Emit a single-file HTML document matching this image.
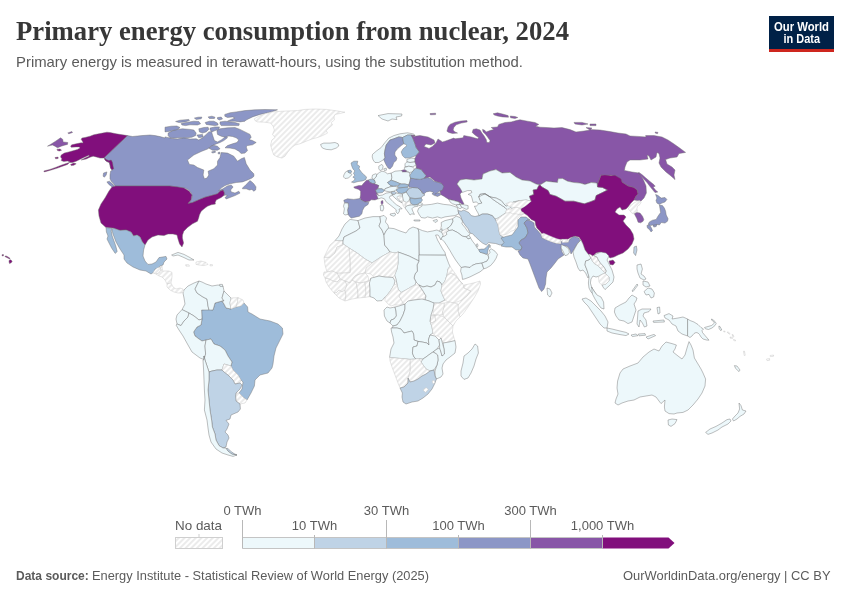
<!DOCTYPE html>
<html lang="en">
<head>
<meta charset="utf-8">
<title>Primary energy consumption from nuclear, 2024</title>
<style>
html,body{margin:0;padding:0;background:#fff;}
body{width:850px;height:600px;overflow:hidden;position:relative;font-family:"Liberation Sans",sans-serif;}
svg{position:absolute;left:0;top:0;display:block;}
.serif{font-family:"Liberation Serif",serif;}
.sans{font-family:"Liberation Sans",sans-serif;}
</style>
</head>
<body>
<svg width="850" height="600" viewBox="0 0 850 600">
<defs>
<pattern id="hatch" patternUnits="userSpaceOnUse" width="4" height="4" patternTransform="rotate(-45 2 2)">
<rect width="4" height="4" fill="#fff"/>
<path d="M-1 2H5" stroke="#e4e4e4" stroke-width="1.45"/>
</pattern>
</defs>
<rect width="850" height="600" fill="#fff"/>
<!-- header -->
<text class="serif" x="16" y="39.6" font-size="27.2" font-weight="bold" fill="#373737" textLength="553" lengthAdjust="spacingAndGlyphs">Primary energy consumption from nuclear, 2024</text>
<text class="sans" x="16" y="67" font-size="14.2" fill="#5b5b5b" textLength="507" lengthAdjust="spacingAndGlyphs">Primary energy is measured in terawatt-hours, using the substitution method.</text>
<!-- logo -->
<g>
<rect x="769" y="16" width="65" height="36" fill="#002147"/>
<rect x="769" y="49" width="65" height="3" fill="#ce261e"/>
<text class="sans" x="801.5" y="30.8" font-size="12" font-weight="bold" fill="#fff" text-anchor="middle" textLength="55" lengthAdjust="spacingAndGlyphs">Our World</text>
<text class="sans" x="801.8" y="42.9" font-size="12" font-weight="bold" fill="#fff" text-anchor="middle" textLength="36.5" lengthAdjust="spacingAndGlyphs">in Data</text>
</g>
<!-- map -->
<g id="map">
<g stroke="#707070" stroke-width="0.45" stroke-linejoin="round">
<path fill="#8c96c6" d="M127.5 135.6L132.5 136.5L137.5 136L142 135.6L150 135L155 135.6L160 136.6L165 138L165 136.9L172.5 138.5L177.5 139L183.8 137.8L190 139L196.2 138.8L198.8 140L202.5 137.8L206.2 134.4L208.8 131.9L211.5 131.5L212.5 135L214.4 140.6L217.5 141.9L221.2 140L226.2 136.2L227.5 137.8L223.8 140.6L220 142.5L215 144.4L211.2 146.2L207.5 149L201.2 151.5L193.8 155L187.5 160L189.4 164.4L193.8 165L197.5 167.5L203.8 170L203.1 175L204.4 178.8L206.9 178.1L208.8 175L208.1 171.2L213.8 168.8L217.5 165L217.5 161.2L220 157.5L221.2 152.5L227.5 153.1L233.8 156.2L237.5 161.2L241.2 158.8L244.4 157.5L246.2 163.8L250 170L253.8 173.8L254 176.2L251.9 178.1L247.5 180L242.5 181.9L236.2 182.5L230 183.8L225 185.6L221.2 188.1L218.8 190.6L222.5 189L227.5 185.9L231.2 185L233.1 186.9L230.6 190L231.2 191.9L235 193.1L238.8 191.2L240 193.1L235 195.6L230 197.5L226.2 199L225 197.5L227.5 195.6L225 195L223.8 195.6L224.4 193.1L223.1 190L220 191.2L217.5 193.8L211.2 195.6L205 197.2L198.8 199.8L192.5 202.5L188.1 203.8L191.2 200L192.2 196.2L191.2 193.1L188.8 190L185 188.1L180 187.5L170 186L115.6 186L115 186L114.4 185L113.1 183.1L111.2 181.2L110 178.8L110 175L110.6 171.2L112.5 170L111.9 169.8L110.6 168.1L110 165L109.4 162.5L106.9 161.5L105 160L104.4 157.5Z"/>
<path fill="#8c96c6" d="M103.5 173.1L106.9 171.9L106.2 175L104.4 177.2L103.1 176.2Z"/>
<path fill="#8c96c6" d="M106.9 181.9L109.4 181.2L112.5 183.8L114.4 186.2L113.8 188.8L111.2 186.2L108.8 184.4Z"/>
<path fill="#8c96c6" d="M242.5 188.1L246.2 184.4L250 180.6L251.9 181.9L253.8 183.8L256 186.9L255.6 190L253.8 191.2L251.9 189.4L249.4 190L246.2 188.8L242.5 188.8Z"/>
<path fill="#8c96c6" d="M216.9 130.6L220 128.8L227.5 127.8L235 127.5L240 129.4L245 131.9L250 134.4L251.2 137.5L249 139.4L252.5 140.6L256.2 142.5L252.5 144.8L247.5 145.6L246.2 146.9L247.5 150.6L245 153.1L241.2 153.5L238.8 151.2L235 149L230 148.1L225 147.8L227.5 145.6L232.5 143.8L236.9 142.5L238.8 140L236.2 137.8L232.5 136.5L228.8 136L225 137.2L221.2 136.2L217.5 134.4Z"/>
<path fill="#8c96c6" d="M224.8 114.4L230 112.8L236.2 111.9L245 110.6L255 109.8L265 109.5L277.5 109.8L272.5 111.5L267.5 112.8L260 114.4L252.5 116.9L246.2 120L245 121.2L240 121.9L235 121.2L227.5 121.2L231.2 119.4L235 118.1L232.5 116.9L227.5 117.5L224.8 116.2Z"/>
<path fill="#8c96c6" d="M220 121.9L225 121.2L235 122.5L239.4 123.8L238.8 125.6L230 125.6L221.2 125.6L220 123.8Z"/>
<path fill="#8c96c6" d="M168.1 133.1L172.5 130.6L177.5 129.4L182.5 128.8L190 129.4L193.8 130L196.2 133.1L195.6 135.6L191.9 137.2L186.2 137.8L180 137.8L173.8 138.1L170 137.8L168.1 135.6Z"/>
<path fill="#8c96c6" d="M165 127.2L171.2 126.2L176.9 126L180 127.5L177.5 129.4L172.5 130.6L168.8 131.5L165 131.9Z"/>
<path fill="#8c96c6" d="M175.6 121.5L180 120.2L188.8 119.4L189.4 120.6L185 121.9L178.8 122.5Z"/>
<path fill="#8c96c6" d="M181.2 123.5L186.2 122.5L193.8 121.2L198.8 121.5L200.6 123.8L197.5 125L190 124.8L185.6 125.6L181.9 125Z"/>
<path fill="#8c96c6" d="M194.4 118.1L198.1 117.2L201.9 117.1L201.2 118.8L196.2 119.4Z"/>
<path fill="#8c96c6" d="M208.1 116.9L211.9 116.2L215 117.2L214.4 118.5L209.4 118.5Z"/>
<path fill="#8c96c6" d="M217.5 117.5L221.2 117.1L222.5 119L219.4 120L217.5 119Z"/>
<path fill="#8c96c6" d="M205.2 122.5L209.4 121.2L213.8 121.2L217.5 123.1L218.1 125L215 125.6L210 125L206.2 124.4Z"/>
<path fill="#8c96c6" d="M198.8 128.8L203.8 127.5L208.1 127.2L208.8 129.4L206.2 131.9L202.5 133.1L199.4 131.9Z"/>
<path fill="#8c96c6" d="M210 128.1L215 126.9L219.4 126.9L218.8 129.4L215 130.6L211.9 131.9L210.2 130Z"/>
<path fill="#8c96c6" d="M196.9 135L202.5 134.4L203.1 136.9L198.8 137.8Z"/>
<path fill="#8c96c6" d="M208.8 148.1L213.1 145.2L217.5 146.2L220 148.8L217.5 150.2L212.5 150.2Z"/>
<path fill="#8c96c6" d="M211.5 151.9L215 151L215.6 152.2L212.5 153.1Z"/>
<path fill="#8c96c6" d="M218.1 152.5L220 152.2L219.8 154L218.1 153.8Z"/>
<path fill="#810f7c" d="M115.6 186L170 186L178 187L184 188L189 191L192 195L191 200L188 203.6L192.5 202.5L198.8 199.8L205 197.2L211.2 195.6L217.5 193.8L220 191.2L223.1 190L224.4 193.1L223.8 195.6L221.2 197.5L216.2 200L215 203.1L215.6 204L211.2 204.8L207.5 206.2L205 208.1L201.2 211.2L199.4 215L198.8 217.5L197.5 221.2L192.5 223.8L187.5 227.5L183.8 231.2L182.5 235L182.4 238L183.6 243L182 247L179.6 244L178 239L177 235L173 234L168 234L164 235.6L158 235L152 237L148 240L145 245L142.4 242L140 237L137 235L133.6 236L131 232L126 230L120 230.4L113 228L106 227.6L101 223L99 216L98.4 210L101 204L105 198L109 191L112 187Z"/>
<path fill="#810f7c" d="M127.5 135.6L122.5 134.8L116.2 133.8L110 132.5L106.9 132.2L102.5 133.1L97.5 134L93.8 134.8L90 136.2L85 137.5L81.9 138.1L81.2 139.4L82.5 141.2L83.1 143.1L81.2 142.8L76.2 143.8L71.9 144.8L70.6 146L71.2 147.2L76.2 146.9L79.4 146.9L80 148.1L77.5 149.4L73.8 150.6L68.8 151.9L64.4 153.1L61.2 155L60.6 156.9L61.9 158.8L61.2 160.6L63.8 161.5L67.5 161L70 161.9L67.5 164.4L62.5 166.2L57.5 168.1L51.2 170L44.4 171.9L43.8 171L50 169.4L56.2 167.2L61.2 165.2L66.2 163.5L69.4 162.5L72.5 162.5L76.2 161.2L81.2 158.8L85 156.9L88.8 155.2L89.4 156L85 158.1L81.2 160L86.2 159L90 157.2L93.1 156.2L96.2 156.9L100 158.1L103.8 158.1L104.4 157.5L106.2 159.4L108.8 160.6L111.2 160L112.5 162.5L113.1 166.2L113.8 168.8L111.9 169.8L110.6 168.1L110 165L109.4 162.5L106.9 161.5L105 160L104.4 157.5Z"/>
<path fill="#810f7c" d="M56.9 149.4L60 149L61.5 150.2L59.4 151L57.5 150.6Z"/>
<path fill="#810f7c" d="M55 157.5L58.1 157.1L58.1 158.5L55.6 158.8Z"/>
<path fill="#810f7c" d="M70.6 164.4L73.8 163.1L76.2 163.8L73.8 165.2L71.2 165.6Z"/>
<path fill="#810f7c" d="M9.2 260.2L10.8 259.8L12.2 261.2L11.2 262.8L9.5 263.6L9 261.8Z"/>
<path fill="#810f7c" d="M5 256L6.8 256.2L10 258.2L9.6 259L7 257.6L5.2 256.8Z"/>
<path fill="#810f7c" d="M2 254.7L3.4 254.5L3.5 255.8L2.2 256Z"/>
<path fill="#8856a7" d="M47.5 146.2L51.2 144L55.6 141.2L60.6 137.8L62.8 139.4L63.1 141.9L67.8 142.5L67.5 144.4L64.4 145.2L61.2 146.2L57.5 147.8L55 146.2L52.5 145L50 145.6Z"/>
<path fill="#8856a7" d="M67.8 132.9L71.9 131.6L72.5 132.5L68.8 133.8Z"/>
<path fill="url(#hatch)" stroke="#c8c8c8" d="M254.4 118.8L258.8 116.2L265 113.8L272.5 111.9L282.5 111.2L297.5 110.6L305 109.4L315 109L326.2 109.4L335 110.6L345 112.2L340 113.5L335 114.4L334 116.9L334.4 120L331.2 122.5L332.5 125L328.8 128.1L326.2 130.6L327.5 133.1L322.5 135.6L317.5 137.5L312.5 138.8L306.2 141.2L300 143.8L295 145L291.2 148.1L287.5 152.5L285 156.2L281.9 158.1L277.5 156.9L273.8 155L271.9 150L270.6 145L271.9 140L275 137.5L272.5 134.4L274.4 130L273.1 126.2L270.6 123.1L265 122.2L257.5 121.9L255 120.6Z"/>
<path fill="#edf8fb" d="M320.6 144.4L323.8 143.1L330 143.1L335 142.5L338.1 143.8L338.8 146L336.2 148.1L331.2 149.8L326.2 149.4L322.5 148.1L321.2 146.2Z"/>
<path fill="#9ebcda" d="M112 230L113 228L120 230.4L126 230L131 232L133.6 236L137 235L140 237L142.4 242L145 245L143.6 250L143 256L145 261L148 264.4L152 264L156 262L159 257.6L166 256.4L167 259L164 262L163 265L160 266L158 268L155 269L154 272L151 274L146 271L140 270L133 267L127 263L124 259L124 255L120 249L116 242L113 234Z"/>
<path fill="#9ebcda" d="M106 227.6L112 228.4L111.2 231L112.2 236L114 241L115.8 246L117.2 251.6L115.2 253.4L111.6 248L109 243L107 239L108 236L106.4 232Z"/>
<path fill="#9ebcda" d="M215 303L222 301L224 304L226 308L231 309L236 307L241 306L244 303L247.6 307L248 312L252 314L260 319L270 321L278 324L282.4 328L283 334L280 340L276 348L274 356L273 364L272 368L268 373L260 375L255 380L254.4 386L251 393L247 400L244 398L239 393L242 389L243 382L241 380L238 375L233 370L231 366L232 362L228 356L225 350L220 346L214 344L211 339L206 340L202 341L199 339L195 336L193.6 332L197 327L201 325L202 319L201.6 310L208 309L213 310Z"/>
<path fill="#edf8fb" d="M184 290L188 286L194 283L199 281L197 285L195 289L197 293L203 297L207 299L208 306L209 310L201.6 310L202 319L199 320L194 316L189 313L182 309.6L185 304L184 298L183 293Z"/>
<path fill="#edf8fb" d="M199 281L202 282L206 284L212 286L218 285L223 286L224 291L222 298L224 301L222 301L215 303L213 310L209 310L208 306L207 299L203 297L197 293L195 289L197 285Z"/>
<path fill="#edf8fb" d="M224 291L228 295L231 298L230 303L231 309L226 308L224 304L222 301L224 301L222 298Z"/>
<path fill="url(#hatch)" stroke="#c8c8c8" d="M231 298L238 297.6L237.6 302L236 307L231 309L230 303Z"/>
<path fill="url(#hatch)" stroke="#c8c8c8" d="M238 297.6L243 300L244 303L241 306L236 307L237.6 302Z"/>
<path fill="#edf8fb" d="M177 315L182 309.6L189 313L188 317L184 321L181 325.6L177 324L176 319Z"/>
<path fill="#edf8fb" d="M176 325L177 324L181 325.6L184 321L188 317L189 313L194 316L199 320L202 319L201 325L197 327L193.6 332L195 336L199 339L202 341L206 340L205 346L205.6 354L204 359.6L200 358L192 352L188 345L183 336L179 330Z"/>
<path fill="#edf8fb" d="M206 340L211 339L214 344L220 346L225 350L228 356L232 362L231 366L224 364L222 370L217 370L212 371L209 372L207 366L205 360L204 356L204 359.6L205.6 354L205 346Z"/>
<path fill="url(#hatch)" stroke="#c8c8c8" d="M222 370L224 364L231 366L233 370L238 375L241 380L240 383L235 384L233 380L228 375L224 372Z"/>
<path fill="url(#hatch)" stroke="#c8c8c8" d="M236 393L239 393L244 398L247 400L245 403L240 404L236 401L235.6 396Z"/>
<path fill="#bfd3e6" d="M209 372L212 371L217 370L222 370L224 372L228 375L233 380L235 384L240 383L242 385L240 389L236 393L235.6 396L236 401L240 404L240.4 409L238 412L231 415L230 419L226 420.4L229 424L227 429L225 432L228 435L229 438L227 442L226 447L223 448L219 445.6L216 440L215 434L212.4 427L211.6 420L210 410L209 400L208 390L209 380Z"/>
<path fill="#edf8fb" d="M204 359.6L204 356L205 360L207 366L209 372L209 380L208 390L209 400L210 410L211.6 420L212.4 427L215 434L216 440L219 445.6L223 448L226 448L228 451L232 454L237 455L233 456.4L228 455L222 453L216 449L211 442L209 435L208 428L207 420L204.4 410L205 400L204.4 390L204 380L203.6 370L203 360Z"/>
<path fill="#bfd3e6" d="M226.4 448.4L228 451L232 454L237 455L234 453.6L230.4 451L228 448.4Z"/>
<path fill="url(#hatch)" stroke="#c8c8c8" d="M154 271L157 268L160 267L161 270L159 273L156 274L153 273Z"/>
<path fill="url(#hatch)" stroke="#c8c8c8" d="M160 267L162 266L162.4 270L161 270Z"/>
<path fill="url(#hatch)" stroke="#c8c8c8" d="M159 273L161 270L163 271L169 271L172 272.4L172 277L171 283L167 284L165 280L162 277L159 276L156 274Z"/>
<path fill="url(#hatch)" stroke="#c8c8c8" d="M167 284L171 283L173 287L176 289L180 288L183 289L184 292L181 293L178 293L174 292L170 290L167 287Z"/>
<path fill="#edf8fb" d="M171.6 255L178 252.4L184 254.4L190 257.6L194 260L189 260L184 257.6L178 255L173 256Z"/>
<path fill="url(#hatch)" stroke="#c8c8c8" d="M196 262L201 261L206 262.4L208 264.4L204 265.6L199 265L196 264.4Z"/>
<path fill="url(#hatch)" stroke="#c8c8c8" d="M185.6 264.8L189 264.8L189.4 266.2L186 266.2Z"/>
<path fill="url(#hatch)" stroke="#c8c8c8" d="M210 264.6L212.4 264.6L212.4 265.8L210 265.8Z"/>
<path fill="#edf8fb" d="M219.6 284.4L222.4 284.4L222.8 286.4L220 286.4Z"/>
<path fill="#edf8fb" d="M372.5 154.4L376.2 151.2L381.2 147.5L385 142.5L388.8 138.1L393.8 135.6L400 133.8L407.5 132.8L413.8 134L415 135.6L411.2 135L407.5 135L402.5 137.5L398.8 136.9L393.8 138.8L390 140L386.2 145L385 150L384.4 153.8L385 157.5L383.1 160L378.8 162.5L375 162.5L373.1 160L372.2 156.9Z"/>
<path fill="#8c96c6" d="M390 140L393.8 138.8L398.8 136.9L402.5 137.5L403.8 143.8L401.2 145.6L397.5 148.8L395 151.9L394.8 155L396.9 158.1L396.2 160.6L393.8 162.5L392.5 166.2L390 169L388.1 168.1L386.2 165L384.4 161.2L383.8 160L385 157.5L384.4 153.8L385 150L386.2 145Z"/>
<path fill="#9ebcda" d="M402.5 137.5L407.5 135L411.2 135L413.1 138.8L415 143.8L416.2 147.5L419.4 151.9L416.2 155.6L410 157.8L405 158.1L402.5 155.6L401.2 151.9L403.1 148.8L406.9 145.6L405.6 144.4L403.8 143.8Z"/>
<path fill="#edf8fb" d="M406.9 159.4L411.2 158.1L415 158.5L415 161.9L410 162.5L406.9 161.9Z"/>
<path fill="#edf8fb" d="M405 163.8L406.9 161.9L410 162.5L415 161.9L416.2 165L412.5 166.9L408.8 166.2L405 166.9Z"/>
<path fill="#edf8fb" d="M404.4 167.5L408.8 166.2L412.5 166.9L414.4 168.8L412.5 171.9L409.4 172.5L406.2 170.6L404.4 169.4Z"/>
<path fill="#8856a7" d="M401.2 170.6L403.8 169.8L406.2 170.6L406.5 171.9L402.5 171.9Z"/>
<path fill="#edf8fb" d="M378.8 166.2L381.9 164.4L383.1 166.2L382.5 169.4L380 170.6L378.8 168.8Z"/>
<path fill="#edf8fb" d="M383.8 168.8L386.2 168.1L386.5 170.2L384.4 170.6Z"/>
<path fill="#9ebcda" d="M351 163.1L353.8 161.2L357.8 161.2L357 164.4L359.6 166.2L359 168.8L361.5 172.2L364 174.8L366.5 176.9L365.9 179.6L362.5 180.9L358.1 181.5L353.8 182.8L351.5 182.1L354.4 180.2L355 178.5L352.9 177.2L354.8 175.2L353.5 173.4L354.8 170.9L353 169L351.8 166.2Z"/>
<path fill="#edf8fb" d="M343.8 175L345.6 171.9L348.1 170.6L348.1 172.2L350 173.1L351.9 174.4L350.6 176.2L348.1 178.1L345 178.5L343.5 176.9Z"/>
<path fill="#9ebcda" d="M348.1 170.6L350.6 170L351.9 171.9L350 173.1L348.1 172.2Z"/>
<path fill="#edf8fb" d="M376.9 174.4L379.4 172.5L381.9 171.2L385 171.9L387.5 173.8L391.2 173.1L391.9 177.5L391.2 180.2L387.5 182.5L390 185.2L393.8 186.2L390 186.9L385 188.8L384.4 190.6L381.9 188.8L378.1 188.8L375.6 190L376.9 186.2L378.8 185.6L374.4 183.8L375.2 182.5L374.4 180L373.8 179.4L376 176.9Z"/>
<path fill="#edf8fb" d="M391.2 173.1L395 171.2L401.2 170.6L402.5 171.9L406.5 171.9L409.4 172.5L409.8 175L410.6 178.1L410 181.2L408.8 185L405 184L400.6 184L396.2 181.9L391.2 180.2L391.9 177.5Z"/>
<path fill="#edf8fb" d="M372.5 175L375.6 173.8L376.9 174.4L376 176.9L373.8 179.4L371.9 178.1Z"/>
<path fill="#9ebcda" d="M368.1 180L371.2 179L374.4 180L375.2 182.5L374.4 183.8L372.5 183.5L370 182.5Z"/>
<path fill="#8856a7" d="M353.8 186.9L358.8 185.6L361.9 185.6L363.1 183.8L366.2 180.6L368.1 180L370 182.5L372.5 183.5L374.4 183.8L378.8 185.6L378.1 188.1L375.6 190.6L376.9 193.1L378.8 195.6L378.1 198.8L375 200L371.2 199.8L369.4 201.2L365 201.9L361.2 200L360 198.1L360.6 195L360.6 191.2L358.8 189.4L354.4 188.1Z"/>
<path fill="#8856a7" d="M381.2 201L382.8 200.6L383.1 203.1L381.9 204.8L381 203.1Z"/>
<path fill="#edf8fb" d="M380.2 205.6L383.1 205L383.8 208.1L382.8 211L380.6 210.6Z"/>
<path fill="#8c96c6" d="M343.8 200.2L347.5 198.8L353.8 199.4L360 198.5L361.2 200L365 201.9L368.8 202.2L368.1 204.4L364.4 206.9L362.5 210.6L361.9 213.8L359.4 216.2L355 217.2L351.2 218.1L349.4 216.2L348.1 214.4L347.5 210L348.5 206.2L348.1 203.1L344.4 202.5Z"/>
<path fill="#edf8fb" d="M344.4 203.1L348.1 203.1L348.5 206.2L347.5 210L348.1 214.4L345 215L343.5 213.8L344.4 208.8L343.5 206.2Z"/>
<path fill="#edf8fb" d="M376.2 193.8L378.8 195.6L382.5 195L386.2 193.1L390 192.5L393.1 194L392.2 195.6L390 196L389.4 197.8L392.8 201.5L396.5 204.8L400.2 206.9L402.1 208.8L399 209L399.6 211L397.8 213.8L396 211.9L396.2 209.8L393.8 207.8L390 204.8L386.2 201.9L384.4 198.8L381.2 197.8L378.8 198.8L378.1 198.8Z"/>
<path fill="#edf8fb" d="M390 214L395 213.1L395.6 215L393.8 216.2L390.6 215.2Z"/>
<path fill="#9ebcda" d="M375.6 190L378.1 188.8L381.9 188.8L384.4 190.6L382.5 192.5L378.8 193.1L376.9 193.1Z"/>
<path fill="#edf8fb" d="M384.4 190.6L385 188.8L390 186.9L393.8 186.2L397.5 186.9L396.9 189.4L393.8 191.2L390 191.9L386.2 191.2Z"/>
<path fill="#9ebcda" d="M387.5 182.5L391.2 180.2L396.2 181.9L400.6 183.8L397.5 185.6L393.8 186.2L390 185.2Z"/>
<path fill="#9ebcda" d="M397.5 186.2L400.6 184L405 184L408.8 185L407.5 187.2L403.1 187.5L398.8 188.1Z"/>
<path fill="#9ebcda" d="M396.2 190L398.8 188.1L403.1 187.5L407.5 187.2L408.8 188.8L406.2 191.9L401.9 193.5L398.1 192.8Z"/>
<path fill="#bfd3e6" d="M391.2 191.9L395 191.5L396.2 192.8L394.4 194.4L391.9 194Z"/>
<path fill="#edf8fb" d="M391.9 194.4L394.4 194.4L396.2 193.1L400 193.8L403.1 194.4L402.5 196.2L398.8 196.2L396.9 197.5L400 200.6L402.5 203.1L398.8 201.2L395 198.1L393.1 196.2Z"/>
<path fill="url(#hatch)" stroke="#c8c8c8" d="M396.9 197.5L398.8 196.2L402.5 196.2L403.1 198.8L401.9 201.2L400 200.6Z"/>
<path fill="#edf8fb" d="M402.5 193.8L406.2 192.2L408.8 195L410 198.1L408.8 201.2L406.2 202.5L403.8 201.2L403.1 198.8L402.5 196.2Z"/>
<path fill="url(#hatch)" stroke="#c8c8c8" d="M401.9 201.2L403.8 201.2L406.2 202.5L405.6 206.2L404.4 207.5L403.1 205.6L402.5 203.1Z"/>
<path fill="url(#hatch)" stroke="#c8c8c8" d="M406.2 202.5L408.8 201.2L411.2 203.8L410 205.2L407.5 205.6L405.6 206.2Z"/>
<path fill="#bfd3e6" d="M406.2 191.9L408.8 188.8L412.5 187.5L417.5 187.8L420.6 190L422.5 193.1L425 195L422.5 196.2L421.2 198.1L415 198.5L410 197.8L408.1 195Z"/>
<path fill="#edf8fb" d="M420.6 188.1L422.5 189.4L424.4 192.5L423.1 194L421.2 191Z"/>
<path fill="#9ebcda" d="M410 198.1L415 198.8L421.2 198.1L422.5 200L420.6 202.5L417.5 204.4L413.8 205L411.2 203.8L410 201.2Z"/>
<path fill="#edf8fb" d="M405 207.5L407.5 205.6L411.2 205L415 205.2L417.5 204.8L418.1 206.2L413.8 206.9L411.9 208.8L413.1 211.9L414.4 214.4L411.9 213.8L410 215L408.8 213.1L406.9 210.6L405.6 208.8Z"/>
<path fill="#edf8fb" d="M413.8 220L420 220L420 221L414.4 221Z"/>
<path fill="#8c96c6" d="M408.8 185L410 181.2L410.6 178.1L415 178.8L420 179.4L424.4 178.1L427.5 177.5L431.2 178.8L433.8 181.2L438.8 182.5L443.1 183.8L445.6 186.2L444.4 190L439.4 191.2L436.9 193.1L434.4 195.6L431.9 193.8L433.8 192.5L430 191.2L426.2 191.9L424.4 193.8L422.5 192.8L421.2 190.6L417.5 187.8L412.5 187.5L408.8 187.2Z"/>
<path fill="#8c96c6" d="M435 193.8L439.4 192.8L440.6 195L437.5 196.5L435 195.6Z"/>
<path fill="#9ebcda" d="M410.6 178.1L409.8 175.6L411.2 173.1L414.4 169.4L416.2 168.1L421.2 169.4L423.8 172.8L426.2 175.6L424.4 178.1L420 179.4L415 178.8Z"/>
<path fill="#edf8fb" d="M378 115.6L388 113.6L402 114L401.6 116L396 117L397 119.6L392 119L388 121L382 119Z"/>
<path fill="#8856a7" d="M413 136.4L420 135.6L428 137L434 140L435 143L431 145L426 144L424 146.4L429 148.4L432.4 146.4L436 143L438 139L442.5 141.9L445 141.2L453.8 138.1L455 138.8L463.1 137.8L463.8 135.6L471.2 136.9L477.5 138.8L478.8 137.8L475 135L472.2 132.5L473.1 129.4L476.2 128.8L480 130L481.9 133.1L483.8 135.6L486.2 139.4L486.9 142.5L489.4 142.5L490 140.6L488.1 137.8L485.6 134.4L483.1 131.9L482.5 129.4L484.4 130L486.2 131.9L490 130.6L493.8 129.4L491.2 127.5L497.5 126.9L498.8 124.4L505 122.5L511.2 121.9L516.2 120.6L520 119.8L527.5 121.2L535 122.5L538.8 124.4L535.6 126.2L540 127.2L546 127.5L554 128L562 127.6L570 129.6L576 132L584 131L590 130L590 129.6L600 130L610 131.6L618 133L626 134L630 136L638 136.4L646 137L645.6 135.6L654 135.6L662 137L668 140L674 144L679 147.6L685.6 152.4L679 153.6L677 157L670 158L665.6 159.6L667 164L672 167L675 170L674 175L675 179.6L671 176L666 172L661 167L659 163L660 158L659 153.6L657 152.4L656 157L651 160L649 156L647 155L648 159L640 160L630 160L627 162L625 167L624.4 170.4L632 172L639 173L643 179L646 186L646.4 193L644 198L641 201L634 200L636 196L638 194L637 190L634 187.6L628 186L622 182L616 177L611 175L606 176L601 175L600 178L598 183L597.5 186.9L596.9 183.1L591.2 182.5L585 184.4L580 183.1L573.8 182.5L567.5 181.2L562.5 178.5L558.1 178.8L557.5 182.5L552.5 181.9L546.2 181.2L540 185L536 184L530 181L522 180L516 177L510 172.4L502 173L496 169.6L490 171L483 174L482 179L474 180L466 179L460 180L457 184L460 188L463 191L460 194L461 198L464 204L462.5 204.4L458.8 201.9L453.8 200.6L448.8 199.4L443.8 196.2L440.6 194.4L440 191.2L442.5 190L443.8 186.2L441.2 183.1L435 181.2L430 176.9L427.5 177.5L424.4 178.1L426.2 175.6L423.8 172.8L421.2 169.4L416.2 168.1L416.2 165L415 161.9L415 158.5L416.2 155.6L419.4 151.9L416.2 147.5L415 143.8L413.1 138.8L411.2 135L415 135.6Z"/>
<path fill="#8856a7" d="M446.9 131.2L448.1 126.9L450 124.4L455 122.2L461.2 121L466.9 120.6L467.2 121.9L461.2 123.1L456.2 124.8L453.8 127.5L453.1 130L455 131.9L457.5 133.1L452.5 133.5L448.8 132.5Z"/>
<path fill="#8856a7" d="M493.1 113.8L497.5 112.8L502.5 114L508.1 115.6L508.5 117.2L502.5 116.9L497.5 116L494.4 115Z"/>
<path fill="#8856a7" d="M510.2 116L515 116.5L517.8 117.5L515 118.5L510.6 117.8Z"/>
<path fill="#8856a7" d="M430 113.6L435.6 113.2L435.6 114.6L430.4 114.8Z"/>
<path fill="#8856a7" d="M574 122.4L582 122.4L588 124L582 125L575 124Z"/>
<path fill="#8856a7" d="M590 124L596 124L596 125.6L590 125.6Z"/>
<path fill="#8856a7" d="M586 127.6L592 128L590 130Z"/>
<path fill="#8856a7" d="M639 172.4L642.5 175L645.6 177.8L649.4 181L654 184.8L655.2 186.2L653.1 187.1L655.9 190.6L657.8 192L655 192.6L652.5 189.6L650 186.5L647.2 182.8L643.8 179L641 176L638.1 173.1Z"/>
<path fill="#8856a7" d="M655 132L658 132.4L657.6 133.6L655.6 133.2Z"/>
<path fill="#edf8fb" d="M460 188L457 184L460 180L466 179L474 180L482 179L483 174L490 171L496 169.6L502 173L510 172.4L516 177L522 180L530 181L536 184L540 185L538.8 185.6L536.9 189.4L533.1 190L533.8 194.4L529.4 196.2L531.2 201.2L526.2 200L520 200.6L515 202.5L523.8 200.6L518.8 200.6L513.8 201.9L510 204.4L506.2 206.2L503.8 203.8L501.2 200.6L496.2 198.1L490 196.9L485 193.8L480 194.4L478.8 196.9L480 200L481.9 203.1L478.8 203.8L476.2 201.9L473.1 202.5L472.2 198.8L471.2 195.6L468.1 194.4L471.9 192.5L471.2 190.6L467.5 190.6L463.8 191.9L462.5 192.5Z"/>
<path fill="#edf8fb" d="M540 185L546.2 181.2L552.5 181.9L557.5 182.5L558.1 178.8L562.5 178.5L567.5 181.2L573.8 182.5L580 183.1L585 184.4L591.2 182.5L596.9 183.1L597.5 186.9L602.5 187.5L607.5 190L602.5 192.5L596.2 195.6L595 200L590 201.9L584.4 203.8L580 202.8L573.8 201.2L565 201.2L561.2 199L556.2 196.2L550 194.4L548.1 190.6L545 188.8L541.9 186.9Z"/>
<path fill="#810f7c" d="M540 185L541.9 186.9L545 188.8L548.1 190.6L550 194.4L556.2 196.2L561.2 199L565 201.2L573.8 201.2L580 202.8L584.4 203.8L590 201.9L595 200L596.2 195.6L602.5 192.5L607.5 190L602.5 187.5L597.5 186.9L598 183L600 178L601 175.2L605 175L611.2 175.6L615 175.2L621 178.8L622 182L628 186L634 187.6L637 190L638 194L636 196L634 200L631 203L628 207L626 209L622 210L620 207L617 209L615 212L619 215L624 215L626 217L623 221L626 225L630 229L633 234L634 239L632 244L628 249L623 253L618 255L614 257L610 258L608 256L604 254L600 252L596 253L593 256L590 254L587 255L585 250L583 245L581 240L579 237L578.8 236.9L575 236.2L570.6 237.5L567.5 239.4L562.5 239L558.8 239.8L552.5 238.5L546.2 236.2L541.9 233.8L540 231.2L536.9 228.1L535.6 225L535 221.2L531.2 219.4L527.5 215.6L523.8 213.1L521.2 211.2L520.6 208.8L525 206.2L531.2 201.2L529.4 196.2L533.8 194.4L533.1 190L536.9 189.4L538.8 185.6Z"/>
<path fill="#810f7c" d="M609 261L613 260L615 262.4L613 265L610 264.4Z"/>
<path fill="#bfd3e6" d="M634 247L636.4 246L637 250L635.6 255.6L633.6 253Z"/>
<path fill="url(#hatch)" stroke="#c8c8c8" d="M628.1 208.8L630 206.2L633.8 203.1L637.5 201.2L639.4 200.6L641.2 201.9L640 204.4L637.5 206.2L636.9 208.8L637.5 211.2L635.6 213.1L633.1 213.8L631.2 212.5L630 210.6Z"/>
<path fill="#8856a7" d="M634.4 213.8L636.9 212.5L640 213.1L642.5 216.2L643.8 219.4L643.1 221.2L640.6 222.8L638.1 222.2L636.9 218.8L635.6 216.2Z"/>
<path fill="#8c96c6" d="M655.6 194.4L658.1 195.6L661.2 198.1L665 197.5L666.9 199.4L665 201.9L661.9 203.1L659.4 204.4L656.9 203.1L656 200.6L656.9 198.1Z"/>
<path fill="#8c96c6" d="M659.4 205L662.5 205.6L664.4 208.1L665.6 211.2L666.2 215L668.1 218.8L667.5 221.2L665 223.1L661.2 222.5L659.4 225L656.9 224.4L655 226.2L652.5 225L650.6 225.6L648.1 224.4L649.4 221.9L652.5 220.2L656.2 219.4L657.5 216.9L658.8 215L660.6 212.5L660 208.8Z"/>
<path fill="#8c96c6" d="M646.9 225.6L649.4 225L651.2 227.5L652.5 230.6L651 231.9L649.4 229.4L647.5 228.1Z"/>
<path fill="#8c96c6" d="M653.1 225.2L656.9 224.6L656.2 226.5L653.8 227.1Z"/>
<path fill="#edf8fb" d="M448.8 199.4L453.8 200.6L458.8 201.9L460 204.4L456.2 205L452.5 203.8L450 201.9Z"/>
<path fill="#edf8fb" d="M456.2 205L460 204.4L461.9 207.5L460 208.8L457.5 207.2Z"/>
<path fill="#edf8fb" d="M460 204.4L462.5 204.4L465 205L468.1 205.6L468.1 208.8L466.2 209.4L463.8 208.1L461.9 207.5Z"/>
<path fill="#edf8fb" d="M421.9 204.8L425 205L431.2 204.4L437.5 203.1L443.8 204.4L450 205L453.8 206.2L457.5 207.5L458.1 210.6L458.8 213.8L455 215.6L450 216.2L445 216.9L441.2 218.1L437.5 216.9L432.5 218.1L427.5 216.9L425 218.1L421.2 217.5L419.4 215L417.5 211.2L418.8 208.1L421.9 206.2Z"/>
<path fill="#edf8fb" d="M418.1 203.8L421.2 202.5L422.5 204L420 205.6L418.5 205.2Z"/>
<path fill="#edf8fb" d="M433.1 220.6L436.9 219.4L437.5 221.2L435 222.5Z"/>
<path fill="#bfd3e6" d="M458.1 210.6L461.2 211.2L463.8 210L466.2 211.2L468.8 212.5L471.2 215.6L475 216.5L478.8 215.6L482.5 213.8L487.5 213.8L492.5 215.6L495 218.8L496.2 221.2L498.1 225L498.8 230L500 235L503.8 237.5L505 241.9L503.1 244.4L500 245L495.6 243.5L491.2 243.1L488.8 242.5L486.2 245L482.5 243.1L478.8 240L475 236.2L472.5 233.8L470 233.1L468.1 228.8L465 225L462.5 221.2L460.6 216.2L458.8 213.8Z"/>
<path fill="#edf8fb" d="M478.8 196.9L480 194.4L485 193.8L490 196.9L493.8 200L497.5 202.5L501.2 205L505 207.5L507.5 210L506.2 212.5L502.5 215L498.8 217.5L496.2 218.8L495 218.8L492.5 215.6L487.5 213.8L482.5 213.8L478.8 215.6L478.1 213.1L476.2 210L474.4 206.2L476.2 206.2L478.8 203.8L481.9 203.1L480 200Z"/>
<path fill="#edf8fb" d="M478.8 196.9L480 194.4L485 193.8L490 196.9L496.2 198.1L501.2 200.6L503.8 203.8L506.2 206.2L510 204.4L513.8 201.9L516.2 203.1L512.5 205.6L515 207.5L512.5 208.8L510 207.5L507.5 210L505 207.5L501.2 205L497.5 202.5L493.8 200L490 196.9L485 193.8Z"/>
<path fill="url(#hatch)" stroke="#c8c8c8" d="M531.2 201.2L525 206.2L520.6 208.8L517.5 207.5L513.8 207.5L508.8 206.2L505.6 203.8L510 201.9L515 202.5L520 200.6L526.2 200Z"/>
<path fill="url(#hatch)" stroke="#c8c8c8" d="M520.6 208.8L521.2 211.2L523.8 213.1L520 215L515 215.6L511.2 214.4L507.5 213.8L505 211.9L507.5 208.8L510 210L513.8 207.5L517.5 207.5Z"/>
<path fill="url(#hatch)" stroke="#c8c8c8" d="M496.2 221.2L498.8 218.1L502.5 215.6L506.2 213.1L510 212.5L512.5 213.8L516.2 213.8L520 215L523.8 213.8L520 216.2L517.5 218.8L518.1 222.5L516.2 226.2L515 230L511.2 231.2L507.5 233.8L503.8 235L500 235L498.8 230L498.1 225Z"/>
<path fill="#9ebcda" d="M501 238L506 236.4L512 235L515 231L518 227L518 220L521 217L526 217L530 220L527 220L524 223L527 228L528 233L525 238L521 240L519 243L522 247L521 250L516 250L512 247L506 247L501 246L504 242.4Z"/>
<path fill="#8c96c6" d="M524 223L527 220L531 221L534 223L534.4 227L538 231L541 234.4L542 238L548 240.4L555 243L561 244L561 241.6L568 242.4L570 239L574 236.4L579 238L580 241L577 244L575 248L573 251L571 254L570 250L568 247L566 246L562 245.6L561 248L562 252L564 255L561 257L558 259L555 263L551 268L547 272L546 278L545.6 284L544 289L541.6 291.6L539 288L536 280L533 272L530 264L528 259L523 258L520 255L518 251L521 250L522 247L519 243L521 240L525 238L528 233L527 228Z"/>
<path fill="url(#hatch)" stroke="#c8c8c8" d="M541.2 234L543.8 233.2L550 236L556.2 238.5L560.5 239.8L560.8 243.5L556.2 243.2L550 241.2L545 239L542.2 237Z"/>
<path fill="url(#hatch)" stroke="#c8c8c8" d="M561.9 239.8L567.5 239.2L568.5 241.9L562.5 242.8Z"/>
<path fill="#edf8fb" d="M561.2 244.4L565 246.2L568.8 248.8L569.4 252.5L567.5 255L565 255.6L563.1 251.2L561.2 248.1Z"/>
<path fill="#edf8fb" d="M547 288L550 289L552 293L550 297L547.6 295Z"/>
<path fill="#edf8fb" d="M573 252L575 248L578 243L581 240L583 244L585 250L589 255L591 258L589 260L585.6 261L585 265L587 270L589 276L588 278L585.6 273L583 270L580 271L578 268L576 262L574 257Z"/>
<path fill="#edf8fb" d="M585.6 261L589 260L591 257.6L592.4 261L594.4 263.6L597 265L599.6 267L602 270L605.2 273.2L602 274.4L598.4 276.4L596 277L593 276L591 279L590.4 283L591.6 287L594 291L596 294L594 295L591 292L589 288L588.4 283L589 277L587 270L585 265Z"/>
<path fill="url(#hatch)" stroke="#c8c8c8" d="M591 257.6L593.6 255.6L597 257L598.4 260L600.4 263L604 267L606.4 271L605.2 273.2L602 270L599.6 267L597 265L594.4 263.6L592.4 261Z"/>
<path fill="#edf8fb" d="M593.6 255.6L597 253.6L601 252L606 253L609 256L607 260L609 264L612 270L614 277L613 282L609 286L605 289.6L603 287L602 285L606 284L609 281L609 277L605.2 273.2L606.4 271L604 267L600.4 263L598.4 260L597 257Z"/>
<path fill="url(#hatch)" stroke="#c8c8c8" d="M598.4 276.4L602 274.4L605.2 273.2L609 277L609 281L606 284L602 285L599 282.4Z"/>
<path fill="#edf8fb" d="M591.6 287L594 291L597 295L601 297L603.6 302L604 309L601 308L598 304L595 299L592.4 294Z"/>
<path fill="#edf8fb" d="M582 299L586 298L591 301L596 306L601 311L605 316L608 322L607 328L604 328L600 324L596 318L592 312L588 306L584 302Z"/>
<path fill="#edf8fb" d="M607 328L612 329L620 331L626 332.4L629 334L626 335.6L619 334.4L612 333L607 331Z"/>
<path fill="#edf8fb" d="M615 308L620 305L626 302L629 298L632 295L637 298L636 301L634 304L636 310L634 316L632 322L628 323.6L624 321L619 320L616 316L614.4 312Z"/>
<path fill="#edf8fb" d="M638 311L642 309L651 309L649 311.6L644 313L643 316L646 320L647 326L644.4 327L642.4 323L640 320L639 327L637 324L637.6 317Z"/>
<path fill="#edf8fb" d="M637 265L641 264L642.4 269L641 274L644 276L646 279L644 280L640 278L638 273L637 269Z"/>
<path fill="#edf8fb" d="M632 291L637 284L638 285L633 291.6Z"/>
<path fill="#edf8fb" d="M644 291.6L648 288L652 289L654.4 293L653.6 297L651 298L649 294.4L646 295Z"/>
<path fill="#edf8fb" d="M643 281L648 282L650 286L646 287L643 285Z"/>
<path fill="#edf8fb" d="M657 307.6L659.6 307L660 313L658 314Z"/>
<path fill="#edf8fb" d="M631 335L636 334L638 335.6L632.4 336.6Z"/>
<path fill="#edf8fb" d="M638.4 334L645 333.6L645.6 335.2L639 335.8Z"/>
<path fill="#edf8fb" d="M646 337L654 334.4L655.6 335.6L648 339Z"/>
<path fill="#edf8fb" d="M653 321L664 320L664.4 322L653.6 322.4Z"/>
<path fill="#edf8fb" d="M664 315.6L669 313.6L673 316L672 319L678 318L683 317L687.6 319L687.6 336L682 334L678 331L676 326L672 324L669 320L665 318Z"/>
<path fill="#edf8fb" d="M687.6 319L690 320.5L694 322L698 324.5L701 327.5L703.5 329L702 330.5L702.5 332.5L705 335.5L708 339L709 340.2L706.5 340L703 339L701 337L699.5 334.5L698 333L696 332.5L694 333.5L692 336L690 337.5L687.6 336Z"/>
<path fill="#edf8fb" d="M615 403L616 399L618 394L617 388L617.6 381L620 373L623 369L630 366L638 363L643 357L649 352L654 349L659 351L662 346L666 342L672 343.6L676.4 345L675 349L673 352L678 356L682 359L685 355L687 348L689 341.6L691 345L693 350L694.4 358L698 364L701 369L703 373L705.6 379L705 386L702 393L698 399L693 405L688 410L683 412.4L677 413L674 414L669 413.6L665 411L664.4 407L665 400L661 403.6L659 401L656 397L652 395L646 396L640 397L634 400L628 401L622 403L618 405Z"/>
<path fill="#edf8fb" d="M668 420L672 419L677 419.6L675 423.6L671 426.4L668.4 425Z"/>
<path fill="#edf8fb" d="M739 403L741 405.6L742.4 410L746 411L744 414L740 416.4L737 419L733.6 421L732.4 419L735 416L738 413L739.6 409Z"/>
<path fill="#edf8fb" d="M705.6 432.4L710 429L716 426.4L722 423L727 419.6L730 419L731 421L728 424L722 427L718 430L712 433L708 434.4Z"/>
<path fill="#edf8fb" d="M734.4 365.6L737 366L740 370L739 371.6L735.6 368.4Z"/>
<path fill="#edf8fb" d="M441.2 222.5L445 220.6L452.5 218.8L453.1 221.2L451.2 225L448.8 227.5L444.4 230L441.9 230.6L441.5 227.5Z"/>
<path fill="url(#hatch)" stroke="#c8c8c8" d="M440.4 226.9L441.6 226.5L441.9 228.8L440.6 229Z"/>
<path fill="#edf8fb" d="M439.4 231.2L440.6 229L441.9 229L441.9 231.2L441.5 235.6L440.6 239Z"/>
<path fill="url(#hatch)" stroke="#c8c8c8" d="M441.9 231.2L444.4 230L447.5 228.1L448.8 230.6L446.2 232.5L446.9 234.4L444.4 236.2L441.9 236.9L440.6 239L441.5 235.6Z"/>
<path fill="#edf8fb" d="M452.5 218.8L456.2 216.2L460 217.5L462.5 221.2L461.9 223.8L465 227.5L467.5 231.2L470 233.8L468.8 235.6L466.2 236.9L462.5 236.2L457.5 232.5L452.5 230L448.8 230.6L447.5 228.1L448.8 227.5L451.2 225L453.1 221.2Z"/>
<path fill="#edf8fb" d="M466.2 236.9L468.8 235.2L470.6 237.8L468.1 239Z"/>
<path fill="#edf8fb" d="M440.6 239.4L441.9 236.9L444.4 236.2L446.9 234.4L446.2 232.5L448.8 230.6L452.5 230L457.5 232.5L462.5 236.2L466.2 236.9L468.1 239L470.6 238.1L472.5 241.2L475 244.4L476.9 247.5L479.4 250.6L480 251.9L485 253.8L488.1 255L488.8 258.1L486.9 261.2L481.9 263.1L476.2 263.8L471.9 265.6L470 267.5L465 266.9L461.2 267.5L458.8 264.4L455.6 260L452.5 255L450 250.6L446.9 245.6L444.4 241.9L441.9 239.4Z"/>
<path fill="#edf8fb" d="M461.2 267.5L465 266.9L470 267.5L471.9 265.6L476.2 263.8L481.9 263.1L483.8 268.8L480 271.9L475 274.4L470 276.9L465 278.8L462.5 279.4L461.9 275L460.6 271.2Z"/>
<path fill="#edf8fb" d="M481.9 263.1L486.9 261.2L488.8 258.1L488.1 255L490 252.5L489.4 250L491.2 248.8L495 251.2L497.5 254.4L496.2 258.1L493.8 261.9L490.6 265.6L486.2 268.1L483.8 268.8Z"/>
<path fill="#edf8fb" d="M489.1 244.4L490.6 245.6L490 247.8L489.2 246.2Z"/>
<path fill="#9ebcda" d="M478.9 249.6L481.3 249.1L484.1 249.1L486 247.7L487.9 245.4L488.8 244.4L489.3 245.8L488.6 248.2L487.9 250.5L487.6 253.8L486 254.1L483.2 253.1L480.1 252.4L479.2 251Z"/>
<path fill="#edf8fb" d="M476.2 244.4L477.5 243.8L478.1 246.2L476.9 247.2Z"/>
<path fill="#edf8fb" d="M335 240.6L339 236L342 229L345 224L350 219.4L358 220.6L360 228L356 231L350 234L344 237L343 241Z"/>
<path fill="url(#hatch)" stroke="#c8c8c8" d="M324 257.4L327 251L330 245L335 240.6L343 241L343 245L337 247L335 253L330 257.4Z"/>
<path fill="#edf8fb" d="M358 220.6L365 218L373 216.6L380 216.6L380.6 222L379 226L382 230L384 235L384.6 245L388 249L390 252L381 257L372 263L365 259L357 253L349 248L343 244L343 241L344 237L350 234L356 231L360 228Z"/>
<path fill="#edf8fb" d="M380 216.6L384 215.4L386.6 218L385.4 222L388 225L388.6 228L386 231L384 235L382 230L379 226L380.6 222Z"/>
<path fill="#edf8fb" d="M388.6 228L394 228.6L400 231L406 233L409 229L413 227L418 228.6L419 232L419 244L419 255L419 261L409 256L398 252L395 253L390 252L388 249L384.6 245L384 235L386 231Z"/>
<path fill="#edf8fb" d="M418 228.8L422.5 230.6L427.5 231.9L432.5 231L436.9 230L439.4 231.2L441.9 232.5L443.1 235.6L440.6 239.4L439.4 236.9L438.1 235L435.6 235L437.5 240L440 244.4L442.5 248.8L445 252.5L445.6 255.2L419.4 255.2L419 232Z"/>
<path fill="#edf8fb" d="M419 255L445.6 255.2L447 259L448.8 263.8L450 266.2L448 269L447 275L445 281L442 285L440 282L437 281L435 285L431 287L427 286L423 287L419 285L416 282L414 278L415 274L417.4 271L417 265L419 261Z"/>
<path fill="#edf8fb" d="M398 252L409 256L419 261L417 265L417.4 271L415 274L414 278L416 282L415 285L411 287L406 290L401 292.6L398 289L397 284L396 279L394.6 275L397 269L398 263Z"/>
<path fill="url(#hatch)" stroke="#c8c8c8" d="M372 263L381 257L390 252L395 253L398 252L398 263L397 269L394.6 275L393 277.4L385 277L379 276L374 277.4L371 274L365 273L366 268Z"/>
<path fill="url(#hatch)" stroke="#c8c8c8" d="M349 248L357 253L365 259L372 263L366 268L365 273L360 274L355 276L352 280L350 283L345 281L340 279L337 273L350 272.6L350 261Z"/>
<path fill="url(#hatch)" stroke="#c8c8c8" d="M330 257.4L335 253L337 247L343 245L343 244L349 248L350 261L350 272.6L337 273L332 271L327 272L325 265L324 257.4Z"/>
<path fill="url(#hatch)" stroke="#c8c8c8" d="M324 272L327 272L332 271L337 273L340 279L337 282L333 281L329 279L325 278L323.4 275Z"/>
<path fill="url(#hatch)" stroke="#c8c8c8" d="M325 278L329 279L333 281L337 282L340 279L345 281L347 285L345 290L342 292L339 290L336 293L334 293L329 287L326 282Z"/>
<path fill="url(#hatch)" stroke="#c8c8c8" d="M334 293L336 293L339 290L342 292L345 290L346 295L345 301L339 298Z"/>
<path fill="url(#hatch)" stroke="#c8c8c8" d="M345 281L350 283L352 280L356 282L357 287L358 293L358 298L352 299L345 301L346 295L345 290L347 285Z"/>
<path fill="url(#hatch)" stroke="#c8c8c8" d="M352 280L355 276L360 274L365 273L368 276L369 281L365 282L360 283L356 282Z"/>
<path fill="url(#hatch)" stroke="#c8c8c8" d="M356 282L360 283L365 282L365.4 287L366 293L365 297.4L358 298L358 293L357 287Z"/>
<path fill="url(#hatch)" stroke="#c8c8c8" d="M365 282L369 281L371 278L370 289L370 296.6L365 297.4L366 293L365.4 287Z"/>
<path fill="#edf8fb" d="M371 278L374 277.4L379 276L385 277L393 277.4L395 281L394 285L391 290L388 294L385 297L382 300.6L377 301L374 298L370 296.6L370 289L369.4 283Z"/>
<path fill="url(#hatch)" stroke="#c8c8c8" d="M394 285L397 284L398 289L401 292.6L399 296L402 301L404 305L399 305L394 305L391 306L388 304L385 300.6L385 297L388 294L391 290Z"/>
<path fill="url(#hatch)" stroke="#c8c8c8" d="M401 292.6L406 290L411 287L415 285L419 285L423 291L426 296L425 300L419 299L413 300L409 300.6L406 304L404 305L402 301L399 296Z"/>
<path fill="#edf8fb" d="M419 285L423 287L427 286L431 287L435 285L437 281L440 282L442 285L441 291L443 296L445 300L439 303L433 303L429 301L425 300L426 296L423 291Z"/>
<path fill="url(#hatch)" stroke="#c8c8c8" d="M442 285L445 281L447 275L451 273L455 275L459 280L463 284L464 288L471 291L467 296L462 300L457 302L453 303L448 302L445 300L443 296L441 291Z"/>
<path fill="url(#hatch)" stroke="#c8c8c8" d="M448 269L450 266.2L452.6 270L456.2 275L459.4 280L461.2 283L463 284L459 280L455 275L451 273L447 275Z"/>
<path fill="url(#hatch)" stroke="#c8c8c8" d="M464 285L469 284L475 282.6L480 281L480.6 284L478 291L474 298L468 307L463 314L460 317L458 312L458 305L462 300L467 296L471 291L464 288Z"/>
<path fill="url(#hatch)" stroke="#c8c8c8" d="M444 303L450 302L458 304L458 311L460 317L456 321L453 326L450 323L444 317L442.4 312L444 307Z"/>
<path fill="url(#hatch)" stroke="#c8c8c8" d="M434 303L439 303.4L444 303L444 307L442.4 312L443 315L438 315L433 315L433 309Z"/>
<path fill="url(#hatch)" stroke="#c8c8c8" d="M431 315L435 315L435.6 321L432 323L430 321Z"/>
<path fill="#edf8fb" d="M384 310L387 307L390 308L395 307L396 311L396.4 316L394 319L391 320L390 323L387 321L384.4 316Z"/>
<path fill="#edf8fb" d="M395 307L399 306L405 304L405 309L403 315L400 321L397 325L393 326L390 323L391 320L394 319L396.4 316L396 311Z"/>
<path fill="#edf8fb" d="M405 304L408 301L414 300L422 299L428 300.6L434 303L433 309L431 315L430 321L432 327L433 333L430 335L428.4 340L429 345L427 343L422 342L418 341.4L414 340L413.6 334L412 331L408 332L404 333L401 329L397 328L392 328L393 326L397 325L400 321L403 315L405 309Z"/>
<path fill="#edf8fb" d="M391 328L397 328L401 329L404 333L408 332L412 331L413.6 334L414 340L418 341.4L417 346L413 347L412.4 353L414 357L416 359L410 359.4L402 358.6L395 358L389.6 357.4L391 349L394 343L393 337L391.6 332Z"/>
<path fill="#edf8fb" d="M413 347L417 346L418 341.4L422 342L427 343L429 345L428.4 340L430 335L435 336L439 340L439.6 345L437 349L433 352L430 354L426 357L423 359L419 358.6L416 359L414 357L412.4 353Z"/>
<path fill="url(#hatch)" stroke="#c8c8c8" d="M432 316L438 315L444 317L450 323L453 326L452.4 332L454 338L455 340.6L449 342L443 343L441 338L438 336L435 336L433 333L432 327L430 321L432 323L435.6 321L435 315Z"/>
<path fill="#edf8fb" d="M443 343L449 342L455 340.6L456 347L455 353L450 357L446 360L443 364L442 368L443 374L441 377L436.4 379L435 376L435 371L437 365L438 360L437.6 355L435 353L433 352L437 349L439.6 348L441 352L442 356L444.4 354L444 349Z"/>
<path fill="#edf8fb" d="M439 340L441 338L442.4 343L444 349L444.4 354L442 356L441 352L439.6 348L439.6 345Z"/>
<path fill="#edf8fb" d="M423 359L426 357L430 354L433 352L435 353L437.6 355L438 360L437 365L434 370L430 371L426 369L423 365L421 362Z"/>
<path fill="url(#hatch)" stroke="#c8c8c8" d="M410 359.4L416 359L419 358.6L421 362L423 365L426 369L430 371L426 374L422 376L418 379L414 381L410 382L408 378L410 371Z"/>
<path fill="url(#hatch)" stroke="#c8c8c8" d="M389.6 357.4L395 358L402 358.6L410 359.4L410 371L408 378L408 383L404 387L400 388L398 383L395 375L392 367L390 361Z"/>
<path fill="#bfd3e6" d="M400 388L404 387L408 383L408 378L410 382L414 381L418 379L422 376L426 374L430 371L434 370L435 376L436.4 379L435 383L432 389L428 394L423 398L418 401L412 402L406 404L403 402L402 397L402.4 393Z"/>
<path fill="url(#hatch)" stroke="#c8c8c8" d="M423 390L426 387.4L428.4 389.4L425.6 392.6Z"/>
<path fill="url(#hatch)" stroke="#c8c8c8" d="M432 381L434 380L435 382.6L433 384Z"/>
<path fill="#edf8fb" d="M461 371L463 363L464 356L468 353L472 349L475 344L477.6 346L478.4 353L476 359L474 366L471 373L468 378L464 379.4L461 376Z"/>
<path fill="#edf8fb" d="M704.5 327.5L708 326.5L711.5 325.5L714.5 323L713 321L711 319.5L712 319L715 321.5L716.2 323.5L715 325.5L712 328L708.5 329.5L705.5 328.8Z"/>
<path fill="#edf8fb" d="M718.8 326.2L720 326.5L721.8 330L720.5 330.5L719.2 328.5Z"/>
<path fill="url(#hatch)" stroke="#c8c8c8" d="M723.5 331L725 331.2L725.2 332L723.8 331.8Z"/>
<path fill="url(#hatch)" stroke="#c8c8c8" d="M727 332L728.5 332.2L730.2 333.8L729.5 334.2L727.8 333Z"/>
<path fill="url(#hatch)" stroke="#c8c8c8" d="M732 334.5L733.2 334.8L734 336.8L733 337Z"/>
<path fill="url(#hatch)" stroke="#c8c8c8" d="M730 337L732.5 337.5L732.5 338.5L730.2 338.2Z"/>
<path fill="url(#hatch)" stroke="#c8c8c8" d="M733.5 339.5L735.5 340L735.5 341L733.8 340.6Z"/>
<path fill="url(#hatch)" stroke="#c8c8c8" d="M743.5 351.2L744.5 351.2L745.2 355.3L744.2 355.5Z"/>
<path fill="url(#hatch)" stroke="#c8c8c8" d="M766.5 359L769.5 358.5L769.7 360.2L767 360.6Z"/>
<path fill="url(#hatch)" stroke="#c8c8c8" d="M770 355.5L773.5 355L773.6 356.2L770.3 356.6Z"/>
</g>
</g>
<!-- legend -->
<g id="legend" class="sans" font-size="13" fill="#5b5b5b">
<rect x="175.5" y="537.5" width="47" height="11" fill="url(#hatch)" stroke="#cfcfcf" stroke-width="1"/>
<path d="M199 534V537.5" stroke="#cfcfcf" stroke-width="1" fill="none"/>
<text x="175" y="529.7" textLength="47" lengthAdjust="spacingAndGlyphs">No data</text>
<rect x="242.5" y="537.5" width="72" height="11" fill="#edf8fb"/>
<rect x="314.5" y="537.5" width="72" height="11" fill="#bfd3e6"/>
<rect x="386.5" y="537.5" width="72" height="11" fill="#9ebcda"/>
<rect x="458.5" y="537.5" width="72" height="11" fill="#8c96c6"/>
<rect x="530.5" y="537.5" width="72" height="11" fill="#8856a7"/>
<path d="M602.5 537.5H668.5L674.5 543L668.5 548.5H602.5Z" fill="#810f7c"/>
<path d="M242.5 537.5H602.5M242.5 548.5H602.5" stroke="#c4c4c4" stroke-width="1" fill="none"/>
<path d="M242.5 520V548.5M386.5 520V548.5M530.5 520V548.5M314.5 535V548.5M458.5 535V548.5M602.5 535V548.5" stroke="#b8b8b8" stroke-width="1" fill="none"/>
<text x="242.5" y="515" text-anchor="middle">0 TWh</text>
<text x="314.5" y="529.7" text-anchor="middle">10 TWh</text>
<text x="386.5" y="515" text-anchor="middle">30 TWh</text>
<text x="458.5" y="529.7" text-anchor="middle">100 TWh</text>
<text x="530.5" y="515" text-anchor="middle">300 TWh</text>
<text x="602.5" y="529.7" text-anchor="middle">1,000 TWh</text>
</g>
<!-- footer -->
<text class="sans" x="16" y="580.3" font-size="12.6" font-weight="bold" fill="#5b5b5b" textLength="72.8" lengthAdjust="spacingAndGlyphs">Data source:</text>
<text class="sans" x="92" y="580.3" font-size="12.6" fill="#5b5b5b" textLength="337" lengthAdjust="spacingAndGlyphs">Energy Institute - Statistical Review of World Energy (2025)</text>
<text class="sans" x="623" y="580.3" font-size="12.6" fill="#5b5b5b" textLength="207.5" lengthAdjust="spacingAndGlyphs">OurWorldinData.org/energy | CC BY</text>
</svg>
</body>
</html>
